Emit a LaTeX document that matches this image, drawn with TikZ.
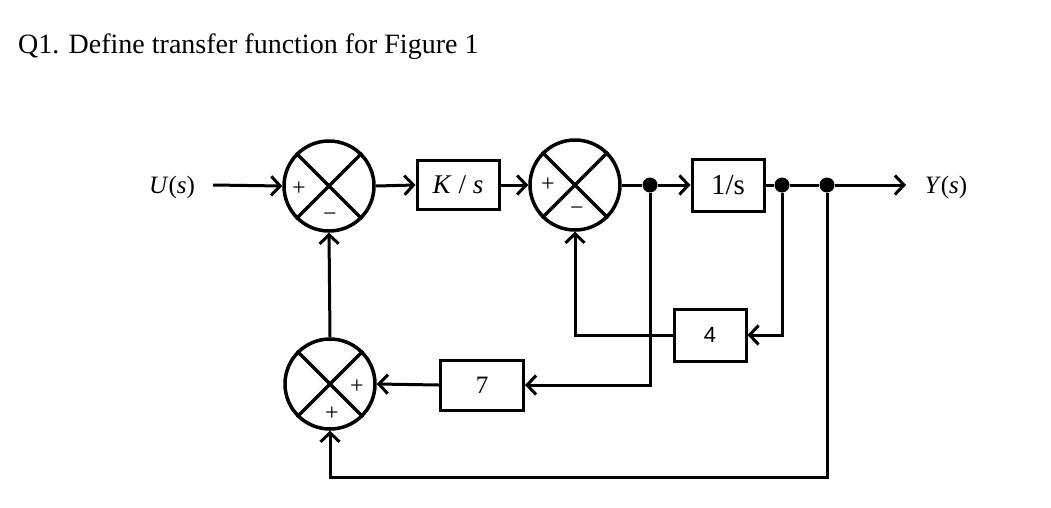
\documentclass[tikz,border=0pt]{standalone}
\usepackage{fontspec}
\setmainfont{Liberation Serif}
\newfontfamily\sansf{Liberation Sans}
\usetikzlibrary{arrows.meta}
\tikzset{
  sumnode/.style={circle, draw, line width=3.5pt, minimum size=90pt, inner sep=0pt},
  block/.style={rectangle, draw, line width=3pt, inner sep=0pt, font=\fontsize{25}{27}\selectfont},
  conn/.style={line width=3pt},
  arr/.style={conn, -{Straight Barb[length=9pt,width=19pt,line width=3pt]}},
  sgn/.style={font=\fontsize{24}{26}\selectfont, inner sep=0pt},
  lbl/.style={font=\fontsize{25}{27}\selectfont, inner sep=0pt},
  dot/.style={circle, fill, minimum size=15pt, inner sep=0pt}
}
\newcommand{\crossit}[1]{\draw[line width=3.5pt] (#1.45) -- (#1.225) (#1.135) -- (#1.315);}
\begin{document}
\begin{tikzpicture}[x=1pt,y=-1pt]
\useasboundingbox (0,0) rectangle (1051,507);
\node[anchor=base west, inner sep=0pt, font=\fontsize{28}{32}\selectfont] (title) at (18,53) {Q1. Define transfer function for Figure 1};

% summing junctions
\node[sumnode] (s1) at (329,186) {};
\node[sumnode] (s2) at (575,185) {};
\node[sumnode] (s3) at (330,384) {};
\crossit{s1}\crossit{s2}\crossit{s3}
\node[sgn] (p1) at (299,189) {+};
\node[sgn] (m1) at (330,217) {\textminus};
\node[sgn] (p2) at (548,185) {+};
\node[sgn] (m2) at (577,211) {\textminus};
\node[sgn] (p3) at (357,387) {+};
\node[sgn] (p4) at (332,414) {+};

% blocks
\node[block, minimum width=82pt, minimum height=49pt, font=\fontsize{27}{29}\selectfont] (ks) at (458,185) {\textit{K} / \textit{s}};
\node[block, minimum width=72pt, minimum height=52pt, font=\fontsize{29}{31}\selectfont] (is) at (728,185) {1/s};
\node[block, minimum width=72pt, minimum height=52pt, font=\sansf\fontsize{22}{24}\selectfont] (b4) at (710,335) {4};
\node[block, minimum width=83pt, minimum height=50pt] (b7) at (482,385) {7};

% labels
\node[lbl] (U) at (172,187) {\textit{U}(\textit{s})};
\node[lbl] (Y) at (946,187) {\textit{Y}(\textit{s})};

% branch points
\node[dot] (d1) at (650,185) {};
\node[dot] (d2) at (782,185) {};
\node[dot] (d3) at (827,185) {};

\coordinate (uin) at (213,185);
\coordinate (yout) at (906,185);
\coordinate (c1) at (827,477);

% connectors
\draw[arr] (uin) -- (s1.west);
\draw[arr] (s1.east) -- (ks.west);
\draw[arr] (ks.east) -- (s2.west);
\draw[conn] (s2.east) -- (d1);
\draw[arr] (d1) -- (is.west);
\draw[conn] (is.east) -- (d2);
\draw[conn] (d2) -- (d3);
\draw[arr] (d3) -- (yout);
\draw[arr] (d2) |- (b4.east);
\draw[arr] (b4.west) -| (s2.south);
\draw[arr] (d1) |- (b7.east);
\draw[arr] (b7.west) -- (s3.east);
\draw[arr] (s3.north) -- (s1.south);
\draw[arr] (d3) -- (c1) -| (s3.south);
\end{tikzpicture}
\end{document}
